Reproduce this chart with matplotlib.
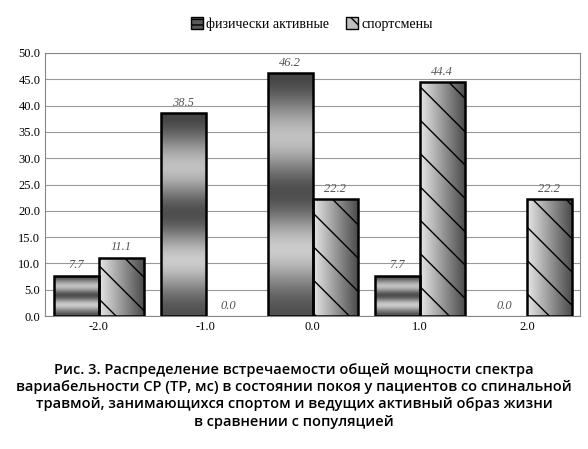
import numpy as np
import matplotlib
matplotlib.use("Agg")
import matplotlib.pyplot as plt

categories = ["-2.0", "-1.0", "0.0", "1.0", "2.0"]
active = [7.7, 38.5, 46.2, 7.7, 0.0]
sport = [11.1, 0.0, 22.2, 44.4, 22.2]
series_names = ["физически активные", "спортсмены"]

fig = plt.figure(figsize=(5.88, 4.49), dpi=100)
ax = fig.add_axes([0.077, 0.296, 0.91, 0.586])
x = np.arange(len(categories))
w = 0.42

grad_v = np.array([0.25, 0.6, 0.85, 0.5, 0.2, 0.55, 0.9, 0.6, 0.3]).reshape(-1, 1)
grad_h = np.linspace(0.9, 0.3, 64).reshape(1, -1)

b1 = ax.bar(x - w/2, active, w, color="0.5", edgecolor="none", zorder=3)
b2 = ax.bar(x + w/2, sport, w, color="0.8", edgecolor="none", zorder=3)
for bars, grad in ((b1, grad_v), (b2, grad_h)):
    for r in bars:
        h = r.get_height()
        if h <= 0:
            continue
        x0 = r.get_x(); ww = r.get_width()
        im = ax.imshow(grad, cmap="gray", vmin=0, vmax=1, aspect="auto",
                       extent=(x0, x0 + ww, 0, h), zorder=3.5, interpolation="bicubic")
        im.set_clip_path(r)
        ax.add_patch(plt.Rectangle((x0, 0), ww, h, fill=False, edgecolor="black",
                                   linewidth=1.8, hatch="\\" if bars is b2 else None, zorder=4))

for xi, v in zip(x - w/2, active):
    ax.text(xi, v + 0.8, f"{v:.1f}", ha="center", va="bottom", style="italic",
            family="Liberation Serif", fontsize=9, color="#555555")
for xi, v in zip(x + w/2, sport):
    ax.text(xi, v + 0.8, f"{v:.1f}", ha="center", va="bottom", style="italic",
            family="Liberation Serif", fontsize=9, color="#555555")

ax.set_xlim(-0.5, 4.5)
ax.set_ylim(0, 50)
ax.set_yticks(np.arange(0, 50.1, 5))
ax.set_yticklabels([f"{t:.1f}" for t in np.arange(0, 50.1, 5)], family="Liberation Serif", fontsize=9)
ax.set_xticks(x)
ax.set_xticklabels(categories, family="Liberation Serif", fontsize=9)
ax.tick_params(length=0)
ax.grid(axis="y", color="#999999", linewidth=0.8, zorder=0)
for s in ax.spines.values():
    s.set_color("#888888")

from matplotlib.patches import Patch
handles = [Patch(facecolor="0.35", edgecolor="black", hatch="---"),
           Patch(facecolor="0.75", edgecolor="black", hatch="\\\\")]
fig.legend(handles, series_names, loc="upper center", bbox_to_anchor=(0.53, 0.99), ncol=2,
           frameon=False, prop={"family": "Liberation Serif", "size": 10},
           handlelength=0.9, handleheight=0.9, columnspacing=1.2, handletextpad=0.2)

fig.text(0.5, 0.045,
         "Рис. 3. Распределение встречаемости общей мощности спектра\n"
         "вариабельности СР (ТР, мс) в состоянии покоя у пациентов со спинальной\n"
         "травмой, занимающихся спортом и ведущих активный образ жизни\n"
         "в сравнении с популяцией",
         ha="center", va="bottom", fontsize=10.5, family="Open Sans", weight="semibold",
         linespacing=1.3)

fig.savefig("out.png", dpi=100)
